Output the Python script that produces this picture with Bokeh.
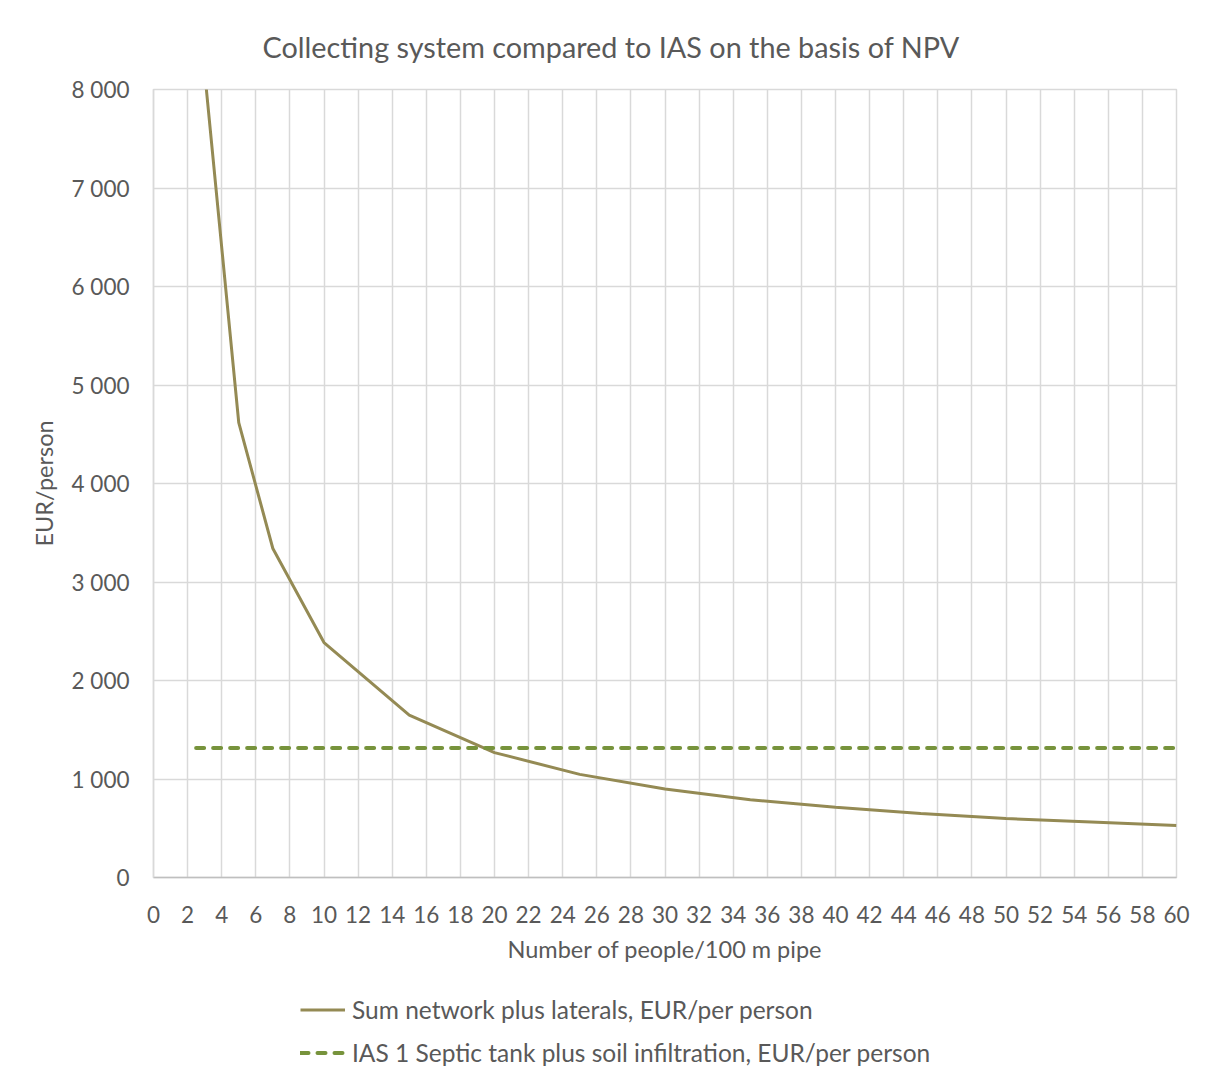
from bokeh.plotting import figure
from bokeh.models import Range1d, Legend, LegendItem, FixedTicker
from bokeh.layouts import column
from bokeh.embed import file_html
from bokeh.resources import INLINE

# Data
people = [3, 5, 7, 10, 15, 20, 25, 30, 35, 40, 45, 50, 55, 60]
sum_network = [8180, 4618, 3340, 2385, 1648, 1268, 1047, 898, 790, 712, 650, 598, 564, 527]
ias_x = [2.5, 60]
ias_y = [1314, 1314]

x_ticks = list(range(0, 61, 2))
y_ticks = list(range(0, 8001, 1000))
y_tick_labels = {v: (f"{v:,}".replace(",", " ")) for v in y_ticks}

title_text = "Collecting system compared to IAS on the basis of NPV"
x_label = "Number of people/100 m pipe"
y_label = "EUR/person"
series1_name = "Sum network plus laterals, EUR/per person"
series2_name = "IAS 1 Septic tank plus soil infiltration, EUR/per person"

FONT = "Lato"
TXT = "#595959"
GRID = "#D9D9D9"
C1 = "#948A54"
C2 = "#77933C"

p = figure(width=1200, height=988, output_backend="svg", toolbar_location=None,
           x_range=Range1d(0, 60), y_range=Range1d(0, 8000),
           min_border_left=153, min_border_right=24, min_border_top=89,
           min_border_bottom=111)

p.title.text = title_text
p.title.text_font = FONT
p.title.text_font_size = "28.8px"
p.title.text_font_style = "normal"
p.title.text_color = TXT
p.title.align = "left"
p.title.offset = 109
p.title.standoff = 52

p.outline_line_color = GRID
p.outline_line_width = 1.5
p.background_fill_color = "white"
p.border_fill_color = "white"

# axes
for ax in (p.xaxis[0], p.yaxis[0]):
    ax.major_label_text_font = FONT
    ax.major_label_text_font_size = "22.5px"
    ax.major_label_text_color = TXT
    ax.axis_label_text_font = FONT
    ax.axis_label_text_font_size = "23.5px"
    ax.axis_label_text_color = TXT
    ax.axis_label_text_font_style = "normal"
    ax.major_tick_line_color = None
    ax.minor_tick_line_color = None

p.xaxis.ticker = FixedTicker(ticks=x_ticks)
p.yaxis.ticker = FixedTicker(ticks=y_ticks)
p.yaxis.major_label_overrides = y_tick_labels
p.xaxis.axis_label = x_label
p.yaxis.axis_label = y_label
p.xaxis.axis_line_color = "#BFBFBF"
p.xaxis.axis_line_width = 1.5
p.yaxis.axis_line_color = GRID
p.yaxis.axis_line_width = 1.5
p.xaxis.major_label_standoff = 22
p.xaxis.axis_label_standoff = 9
p.yaxis.major_label_standoff = 18
p.yaxis.axis_label_standoff = 11

p.xgrid.grid_line_color = GRID
p.xgrid.grid_line_width = 1.5
p.ygrid.grid_line_color = GRID
p.ygrid.grid_line_width = 1.5

p.line(people, sum_network, line_color=C1, line_width=3)
p.line(ias_x, ias_y, line_color=C2, line_width=4, line_dash="8 9", line_cap="round")

# Legend lives in a second, axis-less strip below the chart
lg = figure(width=1200, height=86, output_backend="svg", toolbar_location=None,
            x_range=Range1d(-1000, -999), y_range=Range1d(-1000, -999),
            min_border=0)
lg.axis.visible = False
lg.grid.visible = False
lg.outline_line_color = None
lg.border_fill_color = "white"
l1 = lg.line(people, sum_network, line_color=C1, line_width=3)
l2 = lg.line(ias_x, ias_y, line_color=C2, line_width=4, line_dash="8 9", line_cap="round")

legend = Legend(items=[LegendItem(label=series1_name, renderers=[l1]),
                       LegendItem(label=series2_name, renderers=[l2])],
                location=(147, 7), orientation="vertical",
                glyph_width=45, glyph_height=29, label_height=29,
                spacing=14, label_standoff=7, padding=0, margin=0,
                border_line_color=None, background_fill_alpha=0,
                label_text_font=FONT, label_text_font_size="24.5px",
                label_text_color=TXT)
lg.add_layout(legend, "center")

layout = column(p, lg, spacing=0)
open("out.html", "w").write(file_html(layout, INLINE))
